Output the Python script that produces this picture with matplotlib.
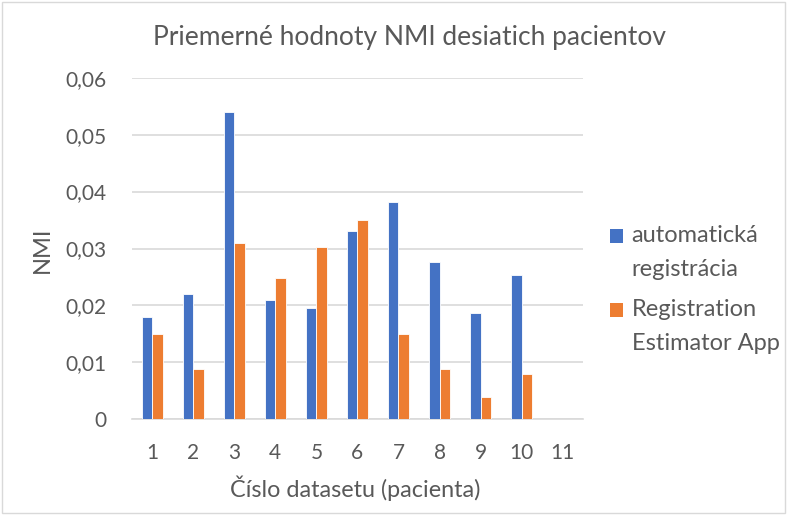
import matplotlib
matplotlib.use("Agg")
import matplotlib.pyplot as plt
import numpy as np
from matplotlib.container import BarContainer
from matplotlib.patches import Rectangle
from matplotlib.legend_handler import HandlerPatch
from matplotlib.ticker import FuncFormatter

plt.rcParams.update({
    "font.family": ["Lato", "DejaVu Sans"],
    "font.size": 15,
    "text.color": "#595959",
    "axes.labelcolor": "#595959",
    "xtick.color": "#595959",
    "ytick.color": "#595959",
})

categories = ["1", "2", "3", "4", "5", "6", "7", "8", "9", "10", "11"]
auto_reg = [0.0179, 0.0220, 0.0540, 0.0210, 0.0195, 0.0331, 0.0381, 0.0277, 0.0186, 0.0253, np.nan]
rea_app = [0.0149, 0.0088, 0.0309, 0.0248, 0.0302, 0.0350, 0.0150, 0.0089, 0.0039, 0.0080, np.nan]
series_names = ["automatická\nregistrácia", "Registration\nEstimator App"]
blue = "#4472C4"
orange = "#ED7D31"

fig = plt.figure(figsize=(7.88, 5.15), dpi=100, facecolor="white")
ax = fig.add_axes([0.1671, 0.1858, 0.573, 0.6633])

x = np.arange(len(categories))
w = 0.255
ax.bar(x - w / 2, auto_reg, w, color=blue, edgecolor="white", linewidth=0.6,
       label=series_names[0], zorder=3)
ax.bar(x + w / 2, rea_app, w, color=orange, edgecolor="white", linewidth=0.6,
       label=series_names[1], zorder=3)

ax.set_xlim(-0.5, len(categories) - 0.5)
ax.set_ylim(0, 0.06)
ax.set_yticks(np.arange(0, 0.061, 0.01))
ax.yaxis.set_major_formatter(FuncFormatter(
    lambda v, _: "0" if abs(v) < 1e-9 else f"{v:.2f}".replace(".", ",")))
ax.set_xticks(x)
ax.set_xticklabels(categories)
ax.tick_params(axis="both", length=0, labelsize=15)
ax.tick_params(axis="x", pad=17)
ax.tick_params(axis="y", pad=18)

ax.grid(axis="y", color="#D9D9D9", linewidth=1.2, zorder=0)
for s in ["top", "right", "left"]:
    ax.spines[s].set_visible(False)
ax.spines["bottom"].set_color("#D9D9D9")
ax.spines["bottom"].set_linewidth(1.2)

fig.text(410 / 788, 1 - 38 / 515, "Priemerné hodnoty NMI desiatich pacientov",
         ha="center", va="center", fontsize=19)
fig.text(355 / 788, 1 - 488 / 515, "Číslo datasetu (pacienta)",
         ha="center", va="center", fontsize=16.8)
fig.text(42 / 788, 1 - 250 / 515, "NMI", ha="center", va="center",
         rotation=90, fontsize=17)


# legend square sits next to the first text line, like Excel does
def top_square(legend, orig_handle, xdescent, ydescent, width, height, fontsize):
    return Rectangle((-xdescent, -ydescent + 12), width, height)


def first_bar_style(handle, orig):
    handle.update_from(orig.patches[0])
    handle.set_edgecolor("none")


leg = fig.legend(loc="upper left", bbox_to_anchor=(601 / 788, 1 - 216 / 515),
                 frameon=False, handlelength=0.55, handleheight=0.55,
                 handletextpad=0.35, labelspacing=0.8, fontsize=17,
                 borderaxespad=0,
                 handler_map={BarContainer: HandlerPatch(patch_func=top_square,
                                                         update_func=first_bar_style)})
for t in leg.get_texts():
    t.set_linespacing(1.75)

fig.patches.append(Rectangle((0.002, 0.004), 0.994, 0.992, transform=fig.transFigure,
                             fill=False, edgecolor="#D9D9D9", linewidth=1))

fig.savefig("out.png", dpi=100, facecolor="white")
